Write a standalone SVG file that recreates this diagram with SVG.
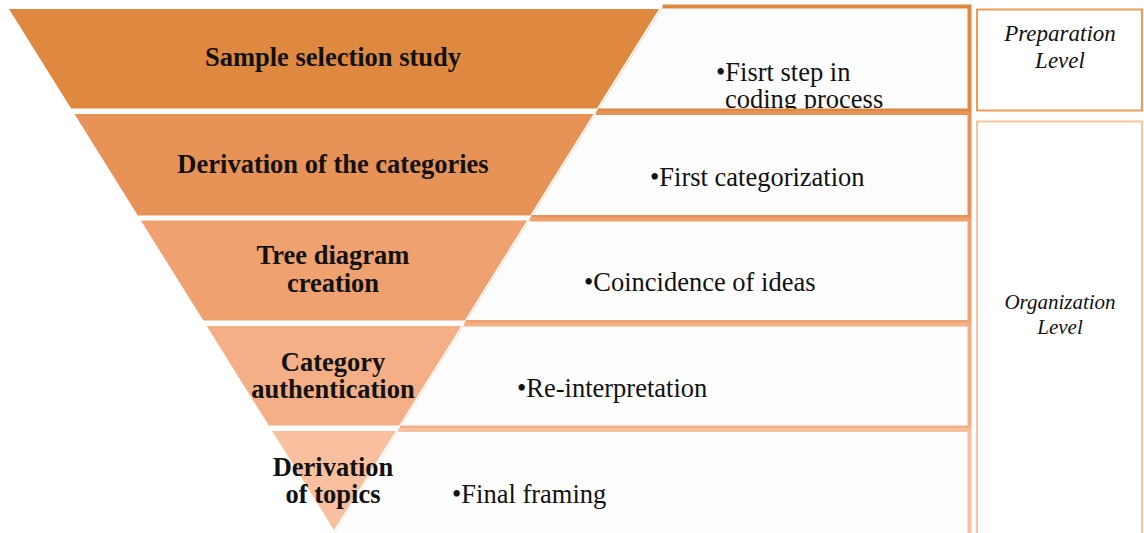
<svg xmlns="http://www.w3.org/2000/svg" width="1144" height="533" viewBox="0 0 1144 533">
  <style>
    .title { font-family: "Liberation Serif", "Times New Roman", serif; font-weight: bold; font-size: 26.5px; fill: #111; text-anchor: middle; }
    .item { font-family: "Liberation Serif", "Times New Roman", serif; font-size: 26.5px; fill: #111; }
    .level { font-family: "Liberation Serif", "Times New Roman", serif; font-style: italic; fill: #111; text-anchor: middle; }
    .cell { fill: #FDFDFD; stroke: none; }
    .edge { fill: none; stroke-width: 4; }
    .slant { stroke-width: 1; opacity: 0.35; }
  </style>
  <rect width="1144" height="533" fill="#FFFFFF"/>

  <!-- description cells behind the pyramid -->
  <g id="cells">
    <polygon class="cell" points="662.6,6.5 969.5,6.5 969.5,110.5 597.7,110.5"/>
    <polygon class="cell" points="596.1,113 969.5,113 969.5,217 531.3,217"/>
    <polygon class="cell" points="529.7,219.5 969.5,219.5 969.5,322 465.7,322"/>
    <polygon class="cell" points="464.2,324.5 969.5,324.5 969.5,427.5 399.9,427.5"/>
    <polygon class="cell" points="398.4,430 969.5,430 969.5,540 329.8,540"/>
  </g>

  <g id="cell-text">
    <text class="item" x="716" y="81">•Fisrt step in</text>
    <text class="item" x="725" y="108">coding process</text>
    <text class="item" x="650" y="186">•First categorization</text>
    <text class="item" x="584" y="291">•Coincidence of ideas</text>
    <text class="item" x="517" y="397">•Re-interpretation</text>
    <text class="item" x="452" y="503">•Final framing</text>
  </g>

  <g id="cell-borders">
    <path class="edge" stroke="#DF8840" d="M662.6,6.5 H969.5 V110.5 H597.7"/>
    <line class="slant" stroke="#DF8840" x1="662.6" y1="6.5" x2="597.7" y2="110.5"/>
    <path class="edge" stroke="#E79358" d="M596.1,113 H969.5 V217 H531.3"/>
    <line class="slant" stroke="#E79358" x1="596.1" y1="113" x2="531.3" y2="217"/>
    <path class="edge" stroke="#EFA16F" d="M529.7,219.5 H969.5 V322 H465.7"/>
    <line class="slant" stroke="#EFA16F" x1="529.7" y1="219.5" x2="465.7" y2="322"/>
    <path class="edge" stroke="#F4AF86" d="M464.2,324.5 H969.5 V427.5 H399.9"/>
    <line class="slant" stroke="#F4AF86" x1="464.2" y1="324.5" x2="399.9" y2="427.5"/>
    <path class="edge" stroke="#F8C09F" d="M398.4,430 H969.5 V540 H329.8"/>
    <line class="slant" stroke="#F8C09F" x1="398.4" y1="430" x2="329.8" y2="540"/>
  </g>

  <!-- inverted pyramid segments -->
  <g id="stage-1">
    <polygon fill="#DF8840" points="9,9 659,9 596.9,108.5 71.1,108.5"/>
    <text class="title" x="333" y="66">Sample selection study</text>
  </g>
  <g id="stage-2">
    <polygon fill="#E79358" points="74.5,114 593.5,114 530.2,215.5 137.8,215.5"/>
    <text class="title" x="333" y="173">Derivation of the categories</text>
  </g>
  <g id="stage-3">
    <polygon fill="#EFA16F" points="140.9,220.5 527.1,220.5 464.7,320.5 203.3,320.5"/>
    <text class="title" x="333" y="264">Tree diagram</text>
    <text class="title" x="333" y="292">creation</text>
  </g>
  <g id="stage-4">
    <polygon fill="#F4AF86" points="206.7,326 461.3,326 399.2,425.5 268.8,425.5"/>
    <text class="title" x="333" y="371">Category</text>
    <text class="title" x="333" y="398">authentication</text>
  </g>
  <g id="stage-5">
    <polygon fill="#F8C09F" points="272.2,431 395.8,431 334,530"/>
    <text class="title" x="333" y="476">Derivation</text>
    <text class="title" x="333" y="503">of topics</text>
  </g>

  <!-- level labels -->
  <g id="preparation-level">
    <rect x="977" y="9.5" width="165" height="101" fill="#FFFFFF" stroke="#EE9B56" stroke-width="2"/>
    <text class="level" x="1060" y="41" font-size="23">Preparation</text>
    <text class="level" x="1060" y="68" font-size="23">Level</text>
  </g>
  <g id="organization-level">
    <rect x="977" y="121.5" width="165" height="420" fill="#FFFFFF" stroke="#F8C5A0" stroke-width="2"/>
    <text class="level" x="1060" y="309" font-size="21">Organization</text>
    <text class="level" x="1060" y="334" font-size="21">Level</text>
  </g>
</svg>
